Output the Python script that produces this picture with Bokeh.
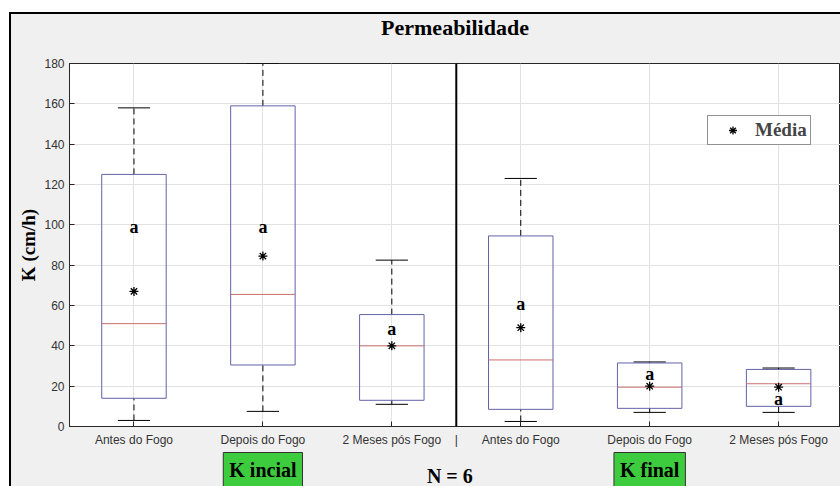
from bokeh.plotting import figure
from bokeh.layouts import column
from bokeh.models import (Range1d, FixedTicker, Span, Label, Legend, LegendItem)
from bokeh.embed import file_html
from bokeh.resources import INLINE
from bokeh.core.properties import value
import numpy as np

# ---- data ----
categories = ["Antes do Fogo", "Depois do Fogo", "2 Meses pós Fogo",
              "Antes do Fogo", "Depois do Fogo", "2 Meses pós Fogo"]
positions = [1, 2, 3, 4, 5, 6]
lower_whisker = [3, 7.5, 11, 2.5, 7, 7]
q1 = [14, 30.5, 13, 8.5, 9, 10]
median = [51, 65.5, 40, 33, 19.5, 21.2]
q3 = [125, 159, 55.5, 94.5, 31.5, 28.3]
upper_whisker = [158, 180, 82.5, 123, 32, 29]
mean = [67, 84.5, 40, 49, 20, 19.5]
group_letters = ["a", "a", "a", "a", "a", "a"]
letter_y = [98.8, 98.8, 48.5, 60.9, 26.2, 13.7]
y_ticks = [0, 20, 40, 60, 80, 100, 120, 140, 160, 180]
separator_x = 3.5
group_names = ["K incial", "K final"]
group_centers = [2, 5]
n_text = "N = 6"
n_center = 3.45
title_text = "Permeabilidade"
title_center = 3.49

SERIF = "Liberation Serif"
SANS = "Liberation Sans"
W = 840
LEFT = 69

x_range = Range1d(0.5, 6.48)

top_bg = ("linear-gradient(#000,#000) 9px 12px / 100% 2px no-repeat, "
          "linear-gradient(#000,#000) 9px 12px / 2px 100% no-repeat, "
          "linear-gradient(#f0f0f0,#f0f0f0) 9px 12px / 100% 100% no-repeat, #ffffff")
side_bg = ("linear-gradient(#000,#000) 9px 0px / 2px 100% no-repeat, "
           "linear-gradient(#f0f0f0,#f0f0f0) 9px 0px / 100% 100% no-repeat, #ffffff")


def strip(height, bg):
    f = figure(width=W, height=height, x_range=x_range, y_range=Range1d(height, 0),
               output_backend="svg", toolbar_location=None,
               x_axis_location=None, y_axis_location=None,
               min_border_left=LEFT, min_border_right=0, min_border_top=0, min_border_bottom=0,
               background_fill_alpha=0, border_fill_alpha=0, outline_line_color=None,
               styles={"background": bg})
    f.grid.visible = False
    return f


# ---------- title strip ----------
top = strip(56, top_bg)
top.add_layout(Label(x=title_center, y=27, text=title_text, text_align="center",
                     text_baseline="middle", text_font=SERIF, text_font_style="bold",
                     text_font_size="22px", text_color="black"))

# ---------- main axes ----------
p = figure(width=W, height=394, x_range=x_range, y_range=Range1d(0, 180),
           output_backend="svg", toolbar_location=None,
           min_border_left=LEFT, min_border_top=7, min_border_bottom=24, min_border_right=0,
           background_fill_color="white", border_fill_alpha=0,
           outline_line_color="#262626", outline_line_width=1,
           styles={"background": side_bg})

xt = positions + [separator_x]
p.xaxis.ticker = FixedTicker(ticks=xt)
overrides = {pos: lab for pos, lab in zip(positions, categories)}
overrides[separator_x] = "|"
p.xaxis.major_label_overrides = overrides
p.xaxis.major_label_text_font = SANS
p.xaxis.major_label_text_font_size = "12px"
p.xaxis.major_label_text_color = "#333333"
p.xaxis.major_tick_in = 5
p.xaxis.major_tick_out = 0
p.xaxis.minor_tick_line_color = None
p.xaxis.axis_line_color = "#262626"
p.xaxis.major_tick_line_color = "#262626"
p.xaxis.major_label_standoff = 6

p.yaxis.ticker = FixedTicker(ticks=y_ticks)
p.yaxis.axis_label = "K (cm/h)"
p.yaxis.axis_label_text_font = SERIF
p.yaxis.axis_label_text_font_style = "bold"
p.yaxis.axis_label_text_font_size = "19px"
p.yaxis.axis_label_text_color = "black"
p.yaxis.axis_label_standoff = 2
p.yaxis.major_label_text_font = SANS
p.yaxis.major_label_text_font_size = "12px"
p.yaxis.major_label_text_color = "#333333"
p.yaxis.major_tick_in = 5
p.yaxis.major_tick_out = 0
p.yaxis.minor_tick_line_color = None
p.yaxis.axis_line_color = "#262626"
p.yaxis.major_tick_line_color = "#262626"
p.yaxis.major_label_standoff = 5

p.xgrid.ticker = FixedTicker(ticks=positions)
p.ygrid.ticker = FixedTicker(ticks=y_ticks)
p.xgrid.grid_line_color = "#e2e2e2"
p.ygrid.grid_line_color = "#e2e2e2"

xs = np.array(positions, dtype=float)
box_w = 0.5
cap_w = 0.25

p.segment(xs, q3, xs, upper_whisker, line_color="black", line_dash="6 4", line_width=1)
p.segment(xs, lower_whisker, xs, q1, line_color="black", line_dash="6 4", line_width=1)
p.segment(xs - cap_w / 2, upper_whisker, xs + cap_w / 2, upper_whisker, line_color="black", line_width=1)
p.segment(xs - cap_w / 2, lower_whisker, xs + cap_w / 2, lower_whisker, line_color="black", line_width=1)
p.vbar(x=xs, width=box_w, bottom=q1, top=q3, fill_color=None, line_color="#6262aa", line_width=1)
p.segment(xs - box_w / 2, median, xs + box_w / 2, median, line_color="#cc6e6e", line_width=1)
mean_r = p.scatter(xs, mean, marker="asterisk", size=9, line_color="black", line_width=1.3)
p.text(xs, letter_y, text=group_letters, text_font=value(SERIF), text_font_style="bold",
       text_font_size="18px", text_align="center", text_baseline="middle", text_color="black")

p.add_layout(Span(location=separator_x, dimension="height", line_color="black", line_width=2))

legend = Legend(items=[LegendItem(label="Média", renderers=[mean_r])],
                location=(638, 281), padding=3, spacing=0, margin=0,
                glyph_width=43, glyph_height=20, label_height=20, label_standoff=1,
                label_text_font=SERIF, label_text_font_style="bold", label_text_font_size="19px",
                border_line_color="#262626", border_line_width=1, background_fill_color="white",
                background_fill_alpha=1)
p.add_layout(legend)

# ---------- bottom strip with group labels ----------
bottom = strip(36, side_bg)
for gx, gname in zip(group_centers, group_names):
    bottom.add_layout(Label(x=gx, y=2, text=gname, text_align="center", text_baseline="top",
                            text_font=SERIF, text_font_style="bold", text_font_size="20px",
                            text_color="black", background_fill_color="#3dcc3d",
                            border_line_color="#333333", padding=6))
bottom.add_layout(Label(x=n_center, y=14.5, text=n_text, text_align="center", text_baseline="top",
                        text_font=SERIF, text_font_style="bold", text_font_size="20px",
                        text_color="black"))

layout = column(top, p, bottom, spacing=0)
open("out.html", "w").write(file_html(layout, INLINE))
